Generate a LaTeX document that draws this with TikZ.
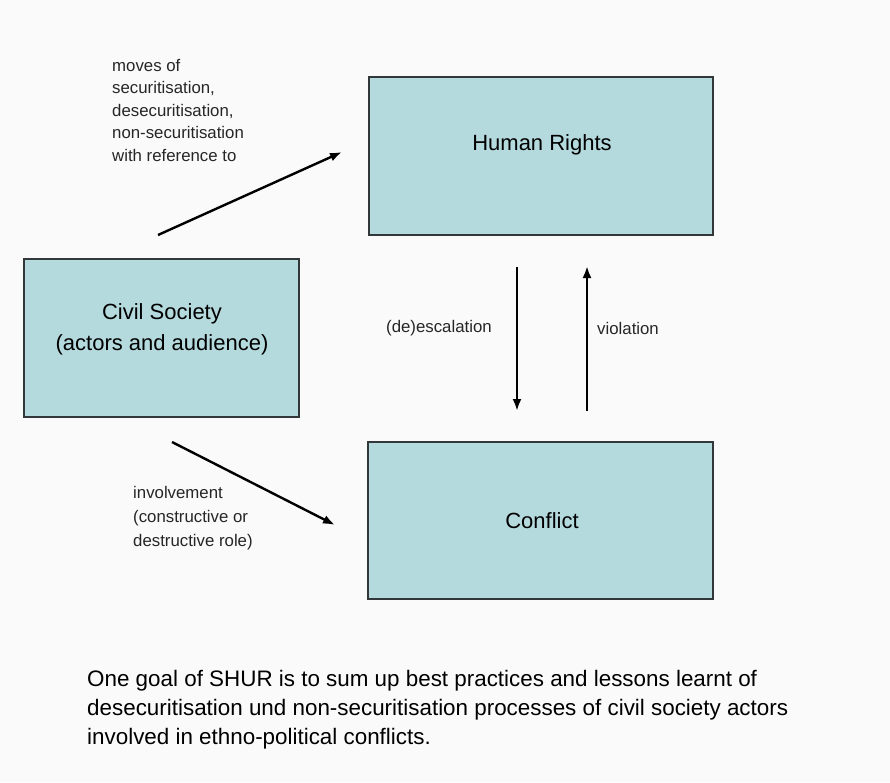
\documentclass[tikz,border=0pt]{standalone}
\usepackage{fontspec}
\setmainfont{Liberation Sans}
\usetikzlibrary{arrows.meta}
\definecolor{boxfill}{RGB}{180,218,222}
\definecolor{bgcol}{RGB}{250,250,250}
\definecolor{edgecol}{RGB}{50,55,58}
\tikzset{
  box/.style={draw=edgecol, line width=1.4pt, fill=boxfill, inner sep=0pt},
  boxtext/.style={inner sep=0pt, align=center, font=\fontsize{22}{31}\selectfont},
  smalltext/.style={inner sep=0pt, align=left, anchor=west, font=\fontsize{16.8}{22.5}\selectfont, text=black!85},
  bigtext/.style={inner sep=0pt, align=left, anchor=west, font=\fontsize{22.4}{29}\selectfont},
  conn/.style={line width=2.4pt, -{Latex[length=12pt,width=9pt]}}
}
\begin{document}
\begin{tikzpicture}[x=1pt,y=-1pt]
\fill[bgcol] (0,0) rectangle (890,782);
\useasboundingbox (0,0) rectangle (890,782);

\node[box, minimum width=344pt, minimum height=158pt] (hr) at (541,156) {};
\node[box, minimum width=275pt, minimum height=158pt] (cs) at (161.5,338) {};
\node[box, minimum width=345pt, minimum height=157pt] (cf) at (540.5,520.5) {};

\node[boxtext] (hrt) at (542,145) {Human Rights};
\node[boxtext] (cst) at (162,329) {Civil Society\\(actors and audience)};
\node[boxtext] (cft) at (542,521) {Conflict};

\node[smalltext] (moves) at (112,110) {moves of\\securitisation,\\desecuritisation,\\non-securitisation\\with reference to};
\node[smalltext] (desc) at (386,328) {(de)escalation};
\node[smalltext] (viol) at (597,328) {violation};
\node[smalltext, font=\fontsize{16.8}{24}\selectfont] (inv) at (133,518) {involvement\\(constructive or\\destructive role)};

\node[bigtext] (goal) at (87,710) {One goal of SHUR is to sum up best practices and lessons learnt of\\desecuritisation und non-securitisation processes of civil society actors\\involved in ethno-political conflicts.};

\coordinate (m1) at (158,235);
\coordinate (m2) at (342,152);
\coordinate (i1) at (172,442);
\coordinate (i2) at (335,525);
\coordinate (d1) at (517,267);
\coordinate (d2) at (517,411);
\coordinate (u1) at (587,411);
\coordinate (u2) at (587,266);

\draw[conn] (m1) -- (m2);
\draw[conn] (i1) -- (i2);
\draw[conn] (d1) -- (d2);
\draw[conn] (u1) -- (u2);
\end{tikzpicture}
\end{document}
